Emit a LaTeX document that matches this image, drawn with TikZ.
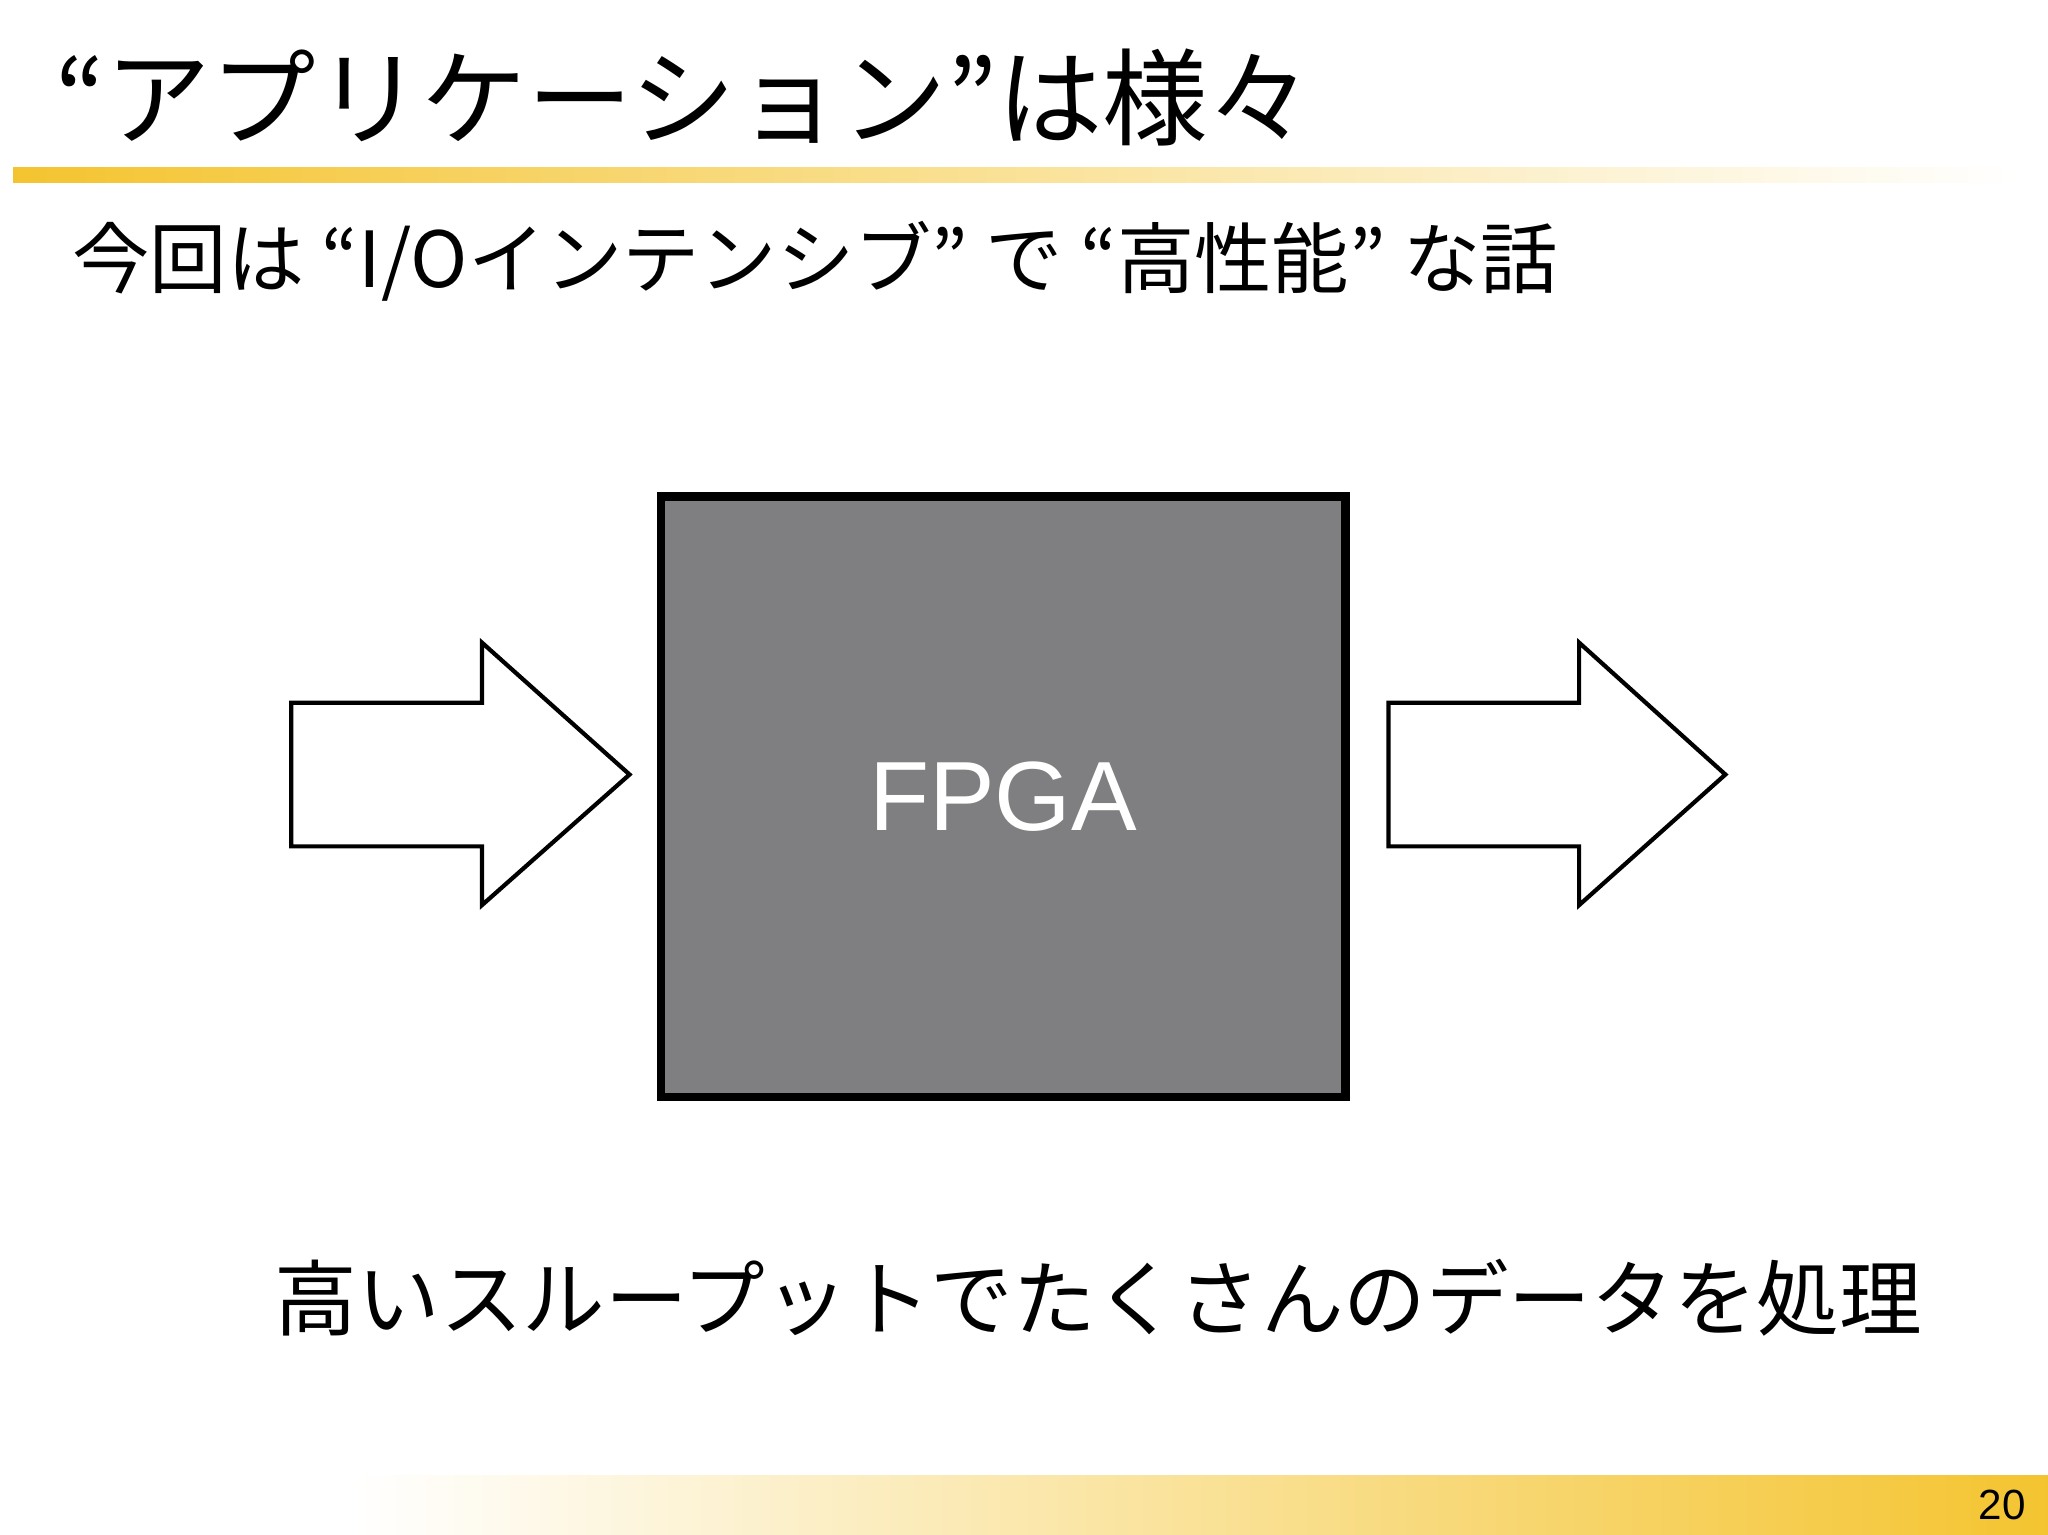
\documentclass[tikz,border=0pt]{standalone}
\usepackage{fontspec}
\setmainfont{Liberation Sans}
\newfontfamily\cjk{Noto Sans CJK JP}
\usetikzlibrary{positioning}
\definecolor{barYellow}{HTML}{F4C430}
\definecolor{chipGray}{HTML}{7F7E81}
\tikzset{
  bigarrow/.style={draw=black, line width=1.2pt, fill=white, line join=miter},
  chip/.style={draw=black, line width=2.4pt, fill=chipGray},
}
\begin{document}
\begin{tikzpicture}[x=0.01306cm, y=-0.01306cm]
    \useasboundingbox (0,0) rectangle (1568,1175);
    % bars
    \shade[left color=barYellow, right color=white] (10,128) rectangle (1545,140);
    \shade[left color=white, right color=barYellow] (270,1130) rectangle (1568,1175);
    % texts
    \node[anchor=base west, inner sep=0] (title) at (42,105) {\cjk\fontsize{30}{36}\selectfont “アプリケーション”は様々};
    \node[anchor=base west, inner sep=0] (sub) at (55,220) {\cjk\fontsize{22}{26}\selectfont 今回は “I/Oインテンシブ” で “高性能” な話};
    \node[anchor=base west, inner sep=0] (bottom) at (210,1018) {\cjk\fontsize{23.5}{28}\selectfont 高いスループットでたくさんのデータを処理};
    \node (page) at (1533,1152) {\fontsize{12}{14}\selectfont 20};
    % chip
    \draw[chip] (506,380) rectangle (1030,840);
    \node[text=white] (fpga) at (768,610) {\fontsize{28}{32}\selectfont FPGA};
    % arrows
    \draw[bigarrow] (223,538) -- (369,538) -- (369,492) -- (482,593) -- (369,693) -- (369,648) -- (223,648) -- cycle;
    \draw[bigarrow] (1063,538) -- (1209,538) -- (1209,492) -- (1321,593) -- (1209,693) -- (1209,648) -- (1063,648) -- cycle;
\end{tikzpicture}
\end{document}
